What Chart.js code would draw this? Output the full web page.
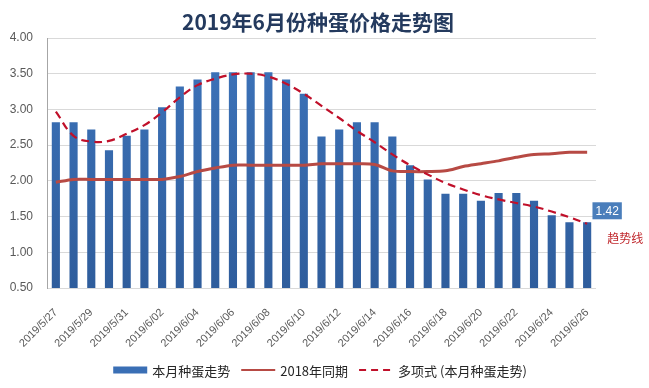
<!DOCTYPE html>
<html>
<head>
<meta charset="utf-8">
<script src="https://cdn.jsdelivr.net/npm/chart.js@4/dist/chart.umd.min.js"></script>
<style>
	html, body { margin: 0; padding: 0; background: #fff; }
	#wrap { width: 649px; height: 388px; position: relative; }
</style>
</head>
<body>
<div id="wrap"><canvas id="eggChart"></canvas></div>
<script>
const dates = ['2019/5/27', '2019/5/28', '2019/5/29', '2019/5/30', '2019/5/31',
	'2019/6/01', '2019/6/02', '2019/6/03', '2019/6/04', '2019/6/05', '2019/6/06',
	'2019/6/07', '2019/6/08', '2019/6/09', '2019/6/10', '2019/6/11', '2019/6/12',
	'2019/6/13', '2019/6/14', '2019/6/15', '2019/6/16', '2019/6/17', '2019/6/18',
	'2019/6/19', '2019/6/20', '2019/6/21', '2019/6/22', '2019/6/23', '2019/6/24',
	'2019/6/25', '2019/6/26'];
const thisMonth = [2.82, 2.82, 2.72, 2.43, 2.63, 2.72, 3.03, 3.32, 3.42, 3.52, 3.52,
	3.52, 3.52, 3.42, 3.22, 2.62, 2.72, 2.82, 2.82, 2.62, 2.22, 2.02, 1.82,
	1.82, 1.72, 1.83, 1.83, 1.72, 1.52, 1.42, 1.42];
const lastYear = [1.98, 2.02, 2.02, 2.02, 2.02, 2.02, 2.02, 2.06, 2.13, 2.18, 2.22,
	2.22, 2.22, 2.22, 2.22, 2.24, 2.24, 2.24, 2.23, 2.14, 2.13, 2.13, 2.14,
	2.20, 2.24, 2.28, 2.33, 2.37, 2.38, 2.40, 2.40];
const trend = [2.97, 2.63, 2.55, 2.56, 2.66, 2.78, 2.96, 3.17, 3.34, 3.43, 3.49,
	3.50, 3.46, 3.36, 3.22, 3.05, 2.88, 2.70, 2.54, 2.37, 2.22, 2.09, 1.97,
	1.88, 1.80, 1.74, 1.69, 1.64, 1.57, 1.49, 1.40];
const seriesNames = ['本月种蛋走势', '2018年同期', '多项式 (本月种蛋走势)'];
const chartTitle = '2019年6月份种蛋价格走势图';
const lastLabel = '1.42';
const trendNote = '趋势线';

const cjk = '"Noto Sans CJK SC", "Liberation Sans", sans-serif';

// title, legend, end label and trend note
const extras = {
	id: 'extras',
	afterDraw(chart) {
		const ctx = chart.ctx;
		ctx.save();
		ctx.font = 'bold 21px ' + cjk;
		ctx.fillStyle = '#243a5e';
		ctx.textAlign = 'center';
		ctx.textBaseline = 'middle';
		ctx.fillText(chartTitle, 318, 22);

		const meta = chart.getDatasetMeta(0);
		const last = meta.data[meta.data.length - 1];
		const bx = last.x + 20, by = last.y - 12;
		ctx.font = '12px "Liberation Sans", sans-serif';
		const w = ctx.measureText(lastLabel).width + 6;
		ctx.fillStyle = '#4a7ebb';
		ctx.fillRect(bx - w / 2, by - 8, w, 17);
		ctx.fillStyle = '#fff';
		ctx.fillText(lastLabel, bx, by + 1);

		ctx.font = '12px ' + cjk;
		ctx.fillStyle = '#c0282d';
		ctx.fillText(trendNote, bx + 18, by + 28);

		// legend, centred
		const symW = 34, gap = 5, itemGap = 11;
		ctx.font = '13px ' + cjk;
		ctx.textAlign = 'left';
		const widths = chart.data.datasets.map(ds => ctx.measureText(ds.label).width);
		const total = widths.reduce((a, b) => a + b, 0) + 3 * (symW + gap) + 2 * itemGap;
		let x = 320 - total / 2;
		const y = 370;
		chart.data.datasets.forEach(function (ds, i) {
			if (i === 0) {
				ctx.fillStyle = '#3a6fb5';
				ctx.fillRect(x, y - 3.5, symW, 7);
			} else {
				ctx.strokeStyle = ds.borderColor;
				ctx.lineWidth = 2;
				ctx.setLineDash(ds.borderDash ? [7, 5] : []);
				ctx.beginPath();
				ctx.moveTo(x, y);
				ctx.lineTo(x + symW, y);
				ctx.stroke();
				ctx.setLineDash([]);
			}
			ctx.fillStyle = '#262626';
			ctx.fillText(ds.label, x + symW + gap, y + 1);
			x += symW + gap + widths[i] + itemGap;
		});
		ctx.restore();
	}
};

const ctx = document.getElementById('eggChart').getContext('2d');
new Chart(ctx, {
	type: 'bar',
	data: {
		labels: dates,
		datasets: [{
			label: seriesNames[0],
			data: thisMonth,
			backgroundColor: function (c) {
				const area = c.chart.chartArea;
				if (!area) return '#3b70b6';
				const g = c.chart.ctx.createLinearGradient(0, area.top, 0, area.bottom);
				g.addColorStop(0, '#3d74bb');
				g.addColorStop(1, '#2f5d9c');
				return g;
			},
			barPercentage: 0.46,
			categoryPercentage: 1,
			order: 3
		}, {
			type: 'line',
			label: seriesNames[1],
			data: lastYear,
			borderColor: '#b74a44',
			backgroundColor: '#b74a44',
			borderWidth: 3,
			pointRadius: 0,
			tension: 0.3,
			fill: false,
			order: 2
		}, {
			type: 'line',
			label: seriesNames[2],
			data: trend,
			borderColor: '#c0102a',
			backgroundColor: '#c0102a',
			borderWidth: 2.2,
			borderDash: [8, 5],
			pointRadius: 0,
			tension: 0.4,
			fill: false,
			order: 1
		}]
	},
	options: {
		responsive: true,
		maintainAspectRatio: false,
		animation: false,
		layout: { padding: { top: 38, right: 53, left: 0, bottom: 38 } },
		plugins: {
			title: { display: false },
			tooltip: { enabled: false },
			legend: { display: false }
		},
		scales: {
			x: {
				grid: { display: false },
				border: { display: false },
				ticks: {
					autoSkip: false,
					maxRotation: 45,
					minRotation: 45,
					padding: 10,
					color: '#595959',
					font: { family: '"Liberation Sans", sans-serif', size: 11 },
					callback: function (v, i) {
						return i % 2 === 0 ? this.getLabelForValue(v) : '';
					}
				},
				afterFit: function (scale) { scale.height = 62; }
			},
			y: {
				min: 0.5,
				max: 4,
				ticks: {
					stepSize: 0.5,
					padding: 14,
					color: '#595959',
					font: { family: '"Liberation Sans", sans-serif', size: 12 },
					callback: function (v) { return v.toFixed(2); }
				},
				grid: { color: '#d9d9d9', drawTicks: false },
				border: { color: '#a6a6a6' },
				afterFit: function (scale) { scale.width = 47; }
			}
		}
	},
	plugins: [extras]
});
</script>
</body>
</html>
